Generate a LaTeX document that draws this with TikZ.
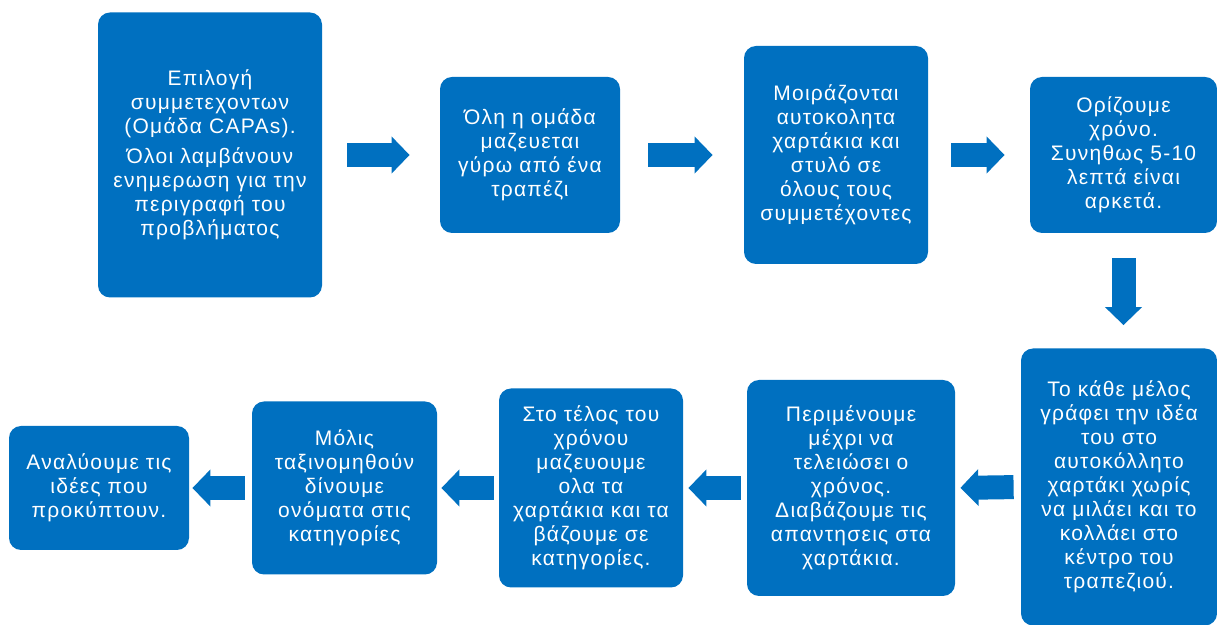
\documentclass[tikz,border=0pt]{standalone}
\usepackage{fontspec}
\setmainfont[LetterSpace=6]{Liberation Sans}
\usetikzlibrary{arrows.meta}
\definecolor{capablue}{HTML}{0070C0}
\begin{document}
\begin{tikzpicture}[x=0.5pt,y=-0.5pt,
  box/.style={fill=capablue, rounded corners=6pt, text=white, align=center, inner sep=0pt, font=\fontsize{10.5}{12}\selectfont},
  blockarrow/.style={draw=capablue, line width=12pt, -{Triangle[length=9pt,width=18pt]}}]
\useasboundingbox (0,0) rectangle (1217,625);

\node[box, minimum width=112pt, minimum height=142.5pt] (epilogi) at (210,155) {Επιλογή\\συμμετεχοντων\\(Ομάδα CAPAs).\\[3pt]Όλοι λαμβάνουν\\ενημερωση για την\\περιγραφή του\\προβλήματος};
\node[box, minimum width=90pt, minimum height=78pt] (omada) at (530,155) {Όλη η ομάδα\\μαζευεται\\γύρω από ένα\\τραπέζι};
\node[box, minimum width=92pt, minimum height=109pt] (moirazontai) at (836,155) {Μοιράζονται\\αυτοκολητα\\χαρτάκια και\\στυλό σε\\όλους τους\\συμμετέχοντες};
\node[box, minimum width=93.5pt, minimum height=78pt] (orizoume) at (1123.5,155) {Ορίζουμε\\χρόνο.\\Συνηθως 5-10\\λεπτά είναι\\αρκετά.};

\node[box, minimum width=98pt, minimum height=138.5pt] (grafei) at (1119,487) {Το κάθε μέλος\\γράφει την ιδέα\\του στο\\αυτοκόλλητο\\χαρτάκι χωρίς\\να μιλάει και το\\κολλάει στο\\κέντρο του\\τραπεζιού.};
\node[box, minimum width=104pt, minimum height=108pt] (perimenoume) at (851,488) {Περιμένουμε\\μέχρι να\\τελειώσει ο\\χρόνος.\\Διαβάζουμε τις\\απαντησεις στα\\χαρτάκια.};
\node[box, minimum width=92pt, minimum height=99.5pt] (telos) at (591,488) {Στο τέλος του\\χρόνου\\μαζευουμε\\ολα τα\\χαρτάκια και τα\\βάζουμε σε\\κατηγορίες.};
\node[box, minimum width=92.5pt, minimum height=86.5pt] (molis) at (344.5,488) {Μόλις\\ταξινομηθούν\\δίνουμε\\ονόματα στις\\κατηγορίες};
\node[box, minimum width=90pt, minimum height=62pt] (analyoume) at (99,488) {Αναλύουμε τις\\ιδέες που\\προκύπτουν.};

\draw[blockarrow, shorten <=12.5pt, shorten >=15pt] (epilogi.east) -- (omada.west);
\draw[blockarrow, shorten <=14pt, shorten >=15.5pt] (omada.east) -- (moirazontai.west);
\draw[blockarrow, shorten <=11.5pt, shorten >=12.5pt] (moirazontai.east) -- (orizoume.west);
\draw[blockarrow, shorten <=12.5pt, shorten >=11.5pt] (orizoume.south) -- (orizoume.south |- grafei.north);
\draw[blockarrow, shorten <=3.5pt, shorten >=2.5pt] (grafei.west) -- (perimenoume.east);
\draw[blockarrow, shorten <=3pt, shorten >=2.5pt] (perimenoume.west) -- (telos.east);
\draw[blockarrow, shorten <=2.5pt, shorten >=2pt] (telos.west) -- (molis.east);
\draw[blockarrow, shorten <=3.5pt, shorten >=1.5pt] (molis.west) -- (analyoume.east);
\end{tikzpicture}
\end{document}
